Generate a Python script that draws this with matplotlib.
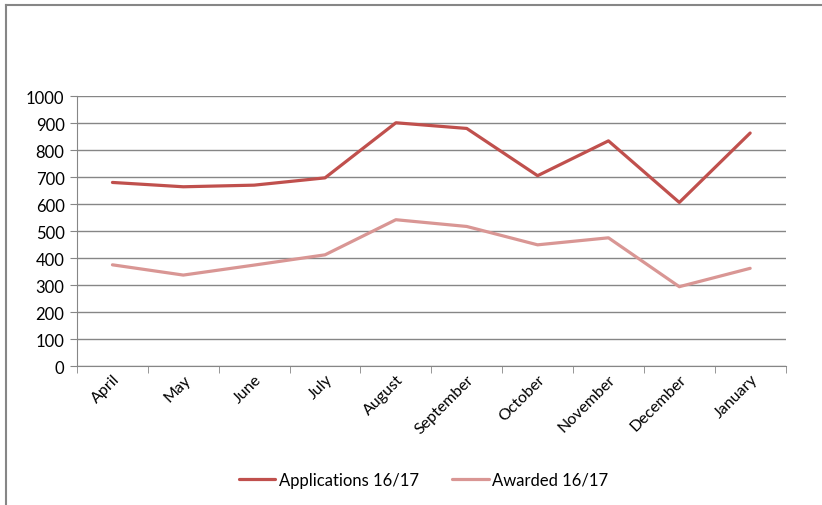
import matplotlib.pyplot as plt
from matplotlib.lines import Line2D

months = ['April', 'May', 'June', 'July', 'August', 'September',
          'October', 'November', 'December', 'January']
applications = [681, 665, 671, 698, 902, 881, 706, 835, 607, 864]
awarded = [376, 338, 375, 413, 543, 518, 450, 476, 295, 363]
y_ticks = [0, 100, 200, 300, 400, 500, 600, 700, 800, 900, 1000]

plt.rcParams['font.family'] = ['Lato', 'DejaVu Sans']

fig = plt.figure(figsize=(8.22, 5.06), dpi=100)
ax = fig.add_axes([0.0937, 0.274, 0.862, 0.5337])

# chart border: top and left edges
bx, by = 5.5 / 822, 1 - 5.5 / 506
fig.lines.append(Line2D([bx, 1.0], [by, by], transform=fig.transFigure, color='#868686', linewidth=1.5))
fig.lines.append(Line2D([bx, bx], [0.0, by], transform=fig.transFigure, color='#868686', linewidth=1.5))

x = list(range(len(months)))
ax.plot(x, applications, color='#C0504D', linewidth=2.3, label='Applications 16/17', solid_capstyle='round')
ax.plot(x, awarded, color='#D99694', linewidth=2.3, label='Awarded 16/17', solid_capstyle='round')

ax.set_xlim(-0.5, len(months) - 0.5)
ax.set_ylim(0, 1000)
ax.set_yticks(y_ticks)
ax.set_yticklabels([str(v) for v in y_ticks], fontsize=12)
ax.yaxis.grid(True, color='#868686', linewidth=1)
ax.set_axisbelow(True)

ax.set_xticks(x)
ax.set_xticklabels(months, rotation=45, ha='right', rotation_mode='anchor', fontsize=11.5)
ax.tick_params(axis='x', length=0, pad=4)
ax.set_xticks([i - 0.5 for i in range(len(months) + 1)], minor=True)
ax.tick_params(axis='x', which='minor', length=5, color='#868686')
ax.tick_params(axis='y', length=5, color='#868686', pad=4)

for side in ['top', 'right']:
    ax.spines[side].set_visible(False)
for side in ['left', 'bottom']:
    ax.spines[side].set_color('#868686')

fig.legend(loc='center', bbox_to_anchor=(0.515, 0.05), ncol=2, frameon=False,
           fontsize=12, handlelength=2.2, handletextpad=0.2, columnspacing=2.0)

fig.savefig('out.png', dpi=100)
